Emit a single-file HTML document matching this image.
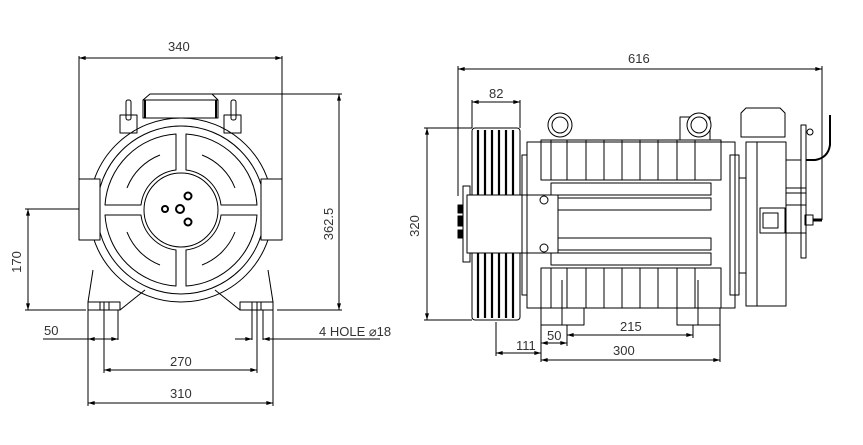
<!DOCTYPE html>
<html><head><meta charset="utf-8"><style>
html,body{margin:0;padding:0;background:#fff}
svg{display:block}
text{font-family:"Liberation Sans",sans-serif;font-size:13px;fill:#333}
</style></head><body>
<svg width="863" height="445" viewBox="0 0 863 445" xmlns="http://www.w3.org/2000/svg">
<defs>
<marker id="a" viewBox="0 0 10 6" refX="10" refY="3" markerWidth="8" markerHeight="4" orient="auto-start-reverse"><path d="M0,0L10,3L0,6z" fill="#000"/></marker>
</defs>
<g stroke="#000" stroke-width="1" fill="none" stroke-linejoin="round">
<!-- LEFT VIEW -->
<line x1="79" y1="56" x2="79" y2="180"/><line x1="282" y1="56" x2="282" y2="180"/>
<line x1="79" y1="58" x2="282" y2="58" marker-start="url(#a)" marker-end="url(#a)"/>
<line x1="150" y1="94" x2="342" y2="94"/><line x1="277" y1="310" x2="342" y2="310"/>
<line x1="339" y1="94" x2="339" y2="310" marker-start="url(#a)" marker-end="url(#a)"/>
<line x1="25" y1="209" x2="88" y2="209"/><line x1="25" y1="310" x2="86" y2="310"/>
<line x1="28" y1="209" x2="28" y2="310" marker-start="url(#a)" marker-end="url(#a)"/>
<!-- top box -->
<path d="M143,100 L150,94 L212,94 L218,100 L218,118 L143,118 Z"/>
<line x1="143" y1="100" x2="218" y2="100"/>
<line x1="145" y1="100" x2="145" y2="118" stroke-width="2"/><line x1="216" y1="100" x2="216" y2="118" stroke-width="2"/>
<rect x="120" y="115" width="17" height="18"/><rect x="224" y="115" width="17" height="18"/>
<rect x="126" y="100" width="5" height="20" rx="2"/><rect x="231" y="100" width="5" height="20" rx="2"/>
<!-- body -->
<path d="M93,270 L88,302 M268,270 L273,302"/>
<circle cx="181" cy="210" r="92"/>
<circle cx="181" cy="210" r="84"/>
<circle cx="181" cy="210" r="37"/>
<path d="M176,134 A76,76 0 0 0 105,205 L141,205 A40,40 0 0 1 176,170 Z"/>
<path d="M186,134 A76,76 0 0 1 257,205 L221,205 A40,40 0 0 0 186,170 Z"/>
<path d="M176,286 A76,76 0 0 1 105,215 L141,215 A40,40 0 0 0 176,250 Z"/>
<path d="M186,286 A76,76 0 0 0 257,215 L221,215 A40,40 0 0 1 186,250 Z"/>
<path d="M127,188 A58,58 0 0 1 160,155 M235,188 A58,58 0 0 0 202,155 M127,232 A58,58 0 0 0 160,265 M235,232 A58,58 0 0 1 202,265"/>
<rect x="79" y="179" width="21" height="61" fill="#fff"/><rect x="261" y="179" width="21" height="61" fill="#fff"/>
<circle cx="188" cy="196" r="3.5" stroke-width="2"/><circle cx="180" cy="209" r="4" stroke-width="2"/>
<circle cx="165" cy="209" r="3" stroke-width="2"/><circle cx="188" cy="222" r="3.5" stroke-width="2"/>
<!-- feet -->
<rect x="88" y="302" width="32" height="8"/><rect x="240" y="302" width="33" height="8"/>
<path d="M120,310 L145,290 M240,310 L215,290"/>
<line x1="100" y1="302" x2="100" y2="310"/><line x1="104" y1="302" x2="104" y2="310"/><line x1="109" y1="302" x2="109" y2="310"/>
<line x1="252" y1="302" x2="252" y2="310"/><line x1="257" y1="302" x2="257" y2="310"/><line x1="261" y1="302" x2="261" y2="310"/>
<line x1="88" y1="310" x2="88" y2="406"/><line x1="104" y1="310" x2="104" y2="373"/><line x1="118" y1="310" x2="118" y2="340"/>
<line x1="252" y1="310" x2="252" y2="340"/><line x1="257" y1="310" x2="257" y2="373"/><line x1="263" y1="310" x2="263" y2="340"/><line x1="273" y1="310" x2="273" y2="406"/>
<line x1="43" y1="339" x2="88" y2="339"/><line x1="88" y1="339" x2="118" y2="339" marker-start="url(#a)" marker-end="url(#a)"/>
<line x1="235" y1="339" x2="252" y2="339" marker-end="url(#a)"/><line x1="263" y1="339" x2="380" y2="339" marker-start="url(#a)"/>
<line x1="104" y1="370" x2="257" y2="370" marker-start="url(#a)" marker-end="url(#a)"/>
<line x1="88" y1="403" x2="273" y2="403" marker-start="url(#a)" marker-end="url(#a)"/>

<!-- RIGHT VIEW -->
<line x1="458" y1="66" x2="458" y2="196"/><line x1="822" y1="66" x2="822" y2="220"/>
<line x1="458" y1="69" x2="822" y2="69" marker-start="url(#a)" marker-end="url(#a)"/>
<line x1="472" y1="100" x2="472" y2="128"/><line x1="520" y1="100" x2="520" y2="128"/>
<line x1="472" y1="102" x2="520" y2="102" marker-start="url(#a)" marker-end="url(#a)"/>
<line x1="424" y1="128" x2="472" y2="128"/><line x1="424" y1="320" x2="472" y2="320"/>
<line x1="427" y1="128" x2="427" y2="320" marker-start="url(#a)" marker-end="url(#a)"/>
<!-- sheave -->
<rect x="472" y="128" width="48" height="192" rx="3"/>
<g stroke-width="2.2">
<line x1="478" y1="130" x2="478" y2="318"/><line x1="485" y1="130" x2="485" y2="318"/><line x1="492" y1="130" x2="492" y2="318"/>
<line x1="499" y1="130" x2="499" y2="318"/><line x1="506" y1="130" x2="506" y2="318"/><line x1="513" y1="130" x2="513" y2="318"/>
</g>
<rect x="463" y="186" width="7" height="76" fill="#fff"/>
<rect x="458" y="205" width="5" height="8" fill="#000"/><rect x="458" y="216" width="5" height="10" fill="#000"/><rect x="458" y="230" width="5" height="8" fill="#000"/>
<rect x="467" y="195" width="60" height="58" fill="#fff"/>
<!-- motor -->
<rect x="527" y="142" width="208" height="166" fill="#fff"/>
<rect x="541" y="140" width="180" height="40"/><rect x="541" y="268" width="180" height="40"/>
<line x1="551" y1="140" x2="551" y2="180"/><line x1="567" y1="140" x2="567" y2="180"/><line x1="586" y1="140" x2="586" y2="180"/><line x1="604" y1="140" x2="604" y2="180"/><line x1="622" y1="140" x2="622" y2="180"/><line x1="640" y1="140" x2="640" y2="180"/><line x1="658" y1="140" x2="658" y2="180"/><line x1="677" y1="140" x2="677" y2="180"/><line x1="695" y1="140" x2="695" y2="180"/>
<line x1="551" y1="268" x2="551" y2="308"/><line x1="567" y1="268" x2="567" y2="308"/><line x1="586" y1="268" x2="586" y2="308"/><line x1="604" y1="268" x2="604" y2="308"/><line x1="622" y1="268" x2="622" y2="308"/><line x1="640" y1="268" x2="640" y2="308"/><line x1="658" y1="268" x2="658" y2="308"/><line x1="677" y1="268" x2="677" y2="308"/><line x1="695" y1="268" x2="695" y2="308"/>
<rect x="551" y="183" width="160" height="12"/><rect x="558" y="198" width="153" height="12"/>
<rect x="558" y="238" width="153" height="12"/><rect x="551" y="253" width="160" height="12"/>
<rect x="527" y="195" width="31" height="58" fill="#fff"/>
<circle cx="544" cy="200" r="4"/><circle cx="544" cy="248" r="4"/>
<rect x="522" y="155" width="5" height="140"/><rect x="730" y="155" width="9" height="140"/>
<rect x="739" y="178" width="7" height="95"/>
<!-- eye bolts -->
<circle cx="560" cy="125" r="12"/><circle cx="560" cy="125" r="8"/>
<rect x="680" y="117" width="30" height="23"/><circle cx="699" cy="125" r="12" fill="#fff"/><circle cx="699" cy="125" r="8"/>
<!-- feet -->
<rect x="541" y="308" width="43" height="17"/><rect x="677" y="308" width="43" height="17"/>
<line x1="562" y1="280" x2="562" y2="325"/><line x1="698" y1="280" x2="698" y2="325"/>
<!-- brake -->
<rect x="746" y="142" width="40" height="164"/><line x1="757" y1="142" x2="757" y2="306"/>
<path d="M741,137 L741,113 L746,108 L780,108 L785,113 L785,137 Z"/>
<rect x="760" y="208" width="25" height="25"/><rect x="763" y="213" width="15" height="15"/>
<rect x="786" y="205" width="20" height="28"/>
<rect x="801" y="125" width="5" height="133"/><circle cx="810" cy="132" r="3"/>
<rect x="786" y="188" width="20" height="5"/>
<path d="M806,160 L815,160 Q828,158 830,145 L830,115" stroke-width="2"/>
<rect x="805" y="215" width="8" height="10"/><line x1="813" y1="220" x2="822" y2="220" stroke-width="3"/>
<line x1="786" y1="160" x2="801" y2="160"/>
<!-- bottom dims -->
<line x1="496" y1="322" x2="496" y2="356"/><line x1="541" y1="325" x2="541" y2="362"/>
<line x1="567" y1="325" x2="567" y2="346"/><line x1="693" y1="325" x2="693" y2="338"/><line x1="720" y1="325" x2="720" y2="362"/>
<line x1="567" y1="335" x2="693" y2="335" marker-start="url(#a)" marker-end="url(#a)"/>
<line x1="541" y1="343" x2="567" y2="343" marker-start="url(#a)" marker-end="url(#a)"/>
<line x1="496" y1="353" x2="541" y2="353" marker-start="url(#a)" marker-end="url(#a)"/>
<line x1="541" y1="360" x2="720" y2="360" marker-start="url(#a)" marker-end="url(#a)"/>
</g>
<text x="168" y="51">340</text>
<text x="333" y="224" transform="rotate(-90 333 224)" text-anchor="middle">362.5</text>
<text x="21" y="262" transform="rotate(-90 21 262)" text-anchor="middle">170</text>
<text x="44" y="335">50</text>
<text x="319" y="336">4 HOLE ⌀18</text>
<text x="170" y="366">270</text>
<text x="170" y="398">310</text>
<text x="628" y="63">616</text>
<text x="489" y="98">82</text>
<text x="419" y="226" transform="rotate(-90 419 226)" text-anchor="middle">320</text>
<text x="620" y="331">215</text>
<text x="547" y="340">50</text>
<text x="516" y="350">111</text>
<text x="613" y="355">300</text>
</svg>
</body></html>
